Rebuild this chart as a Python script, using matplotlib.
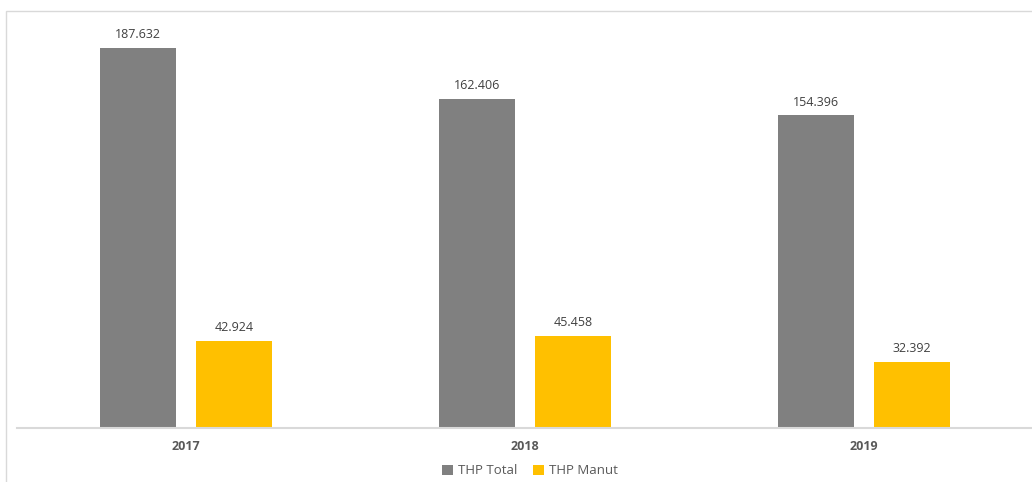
import numpy as np
import matplotlib
matplotlib.use("Agg")
import matplotlib.pyplot as plt
from matplotlib.patches import Rectangle

years = ["2017", "2018", "2019"]
thp_total = [187.632, 162.406, 154.396]
thp_manut = [42.924, 45.458, 32.392]

plt.rcParams['font.family'] = ['Open Sans', 'DejaVu Sans']

fig = plt.figure(figsize=(10.32, 4.82), dpi=100)
# chart border (cropped on right and bottom)
fig.patches.append(Rectangle((6/1032, -0.1), 1.2, (482-11)/482 + 0.1, transform=fig.transFigure,
                             fill=False, edgecolor='#d9d9d9', linewidth=1.0))

ax = fig.add_axes([16.5/1032, (482-428)/482, 1017/1032, (428-11)/482])
x = np.arange(len(years))
w = 0.224
off = 0.142
b1 = ax.bar(x - off, thp_total, w, color='#808080', label='THP Total')
b2 = ax.bar(x + off, thp_manut, w, color='#ffc000', label='THP Manut')

for bars, vals in ((b1, thp_total), (b2, thp_manut)):
    for r, v in zip(bars, vals):
        ax.annotate(f"{v:.3f}", (r.get_x() + r.get_width()/2, v), xytext=(0, 5),
                    textcoords='offset points', ha='center', va='bottom',
                    fontsize=9, color='#404040')

ax.set_xlim(-0.5, 2.5)
ax.set_ylim(0, 206)
ax.set_xticks(x)
ax.set_xticklabels(years, fontweight='bold', fontsize=9, color='#595959')
ax.tick_params(axis='x', length=0, pad=9)
ax.set_yticks([])
for s in ('top', 'right', 'left'):
    ax.spines[s].set_visible(False)
ax.spines['bottom'].set_color('#d9d9d9')
ax.spines['bottom'].set_linewidth(1.5)

fig.legend(handles=[b1, b2], loc='center', bbox_to_anchor=(530/1032, 1 - 471/482),
           ncol=2, frameon=False, fontsize=9.5, handlelength=0.8, handleheight=0.8,
           handletextpad=0.4, columnspacing=1.2, labelcolor='#595959')

fig.savefig('out.png', dpi=100, facecolor='white')
